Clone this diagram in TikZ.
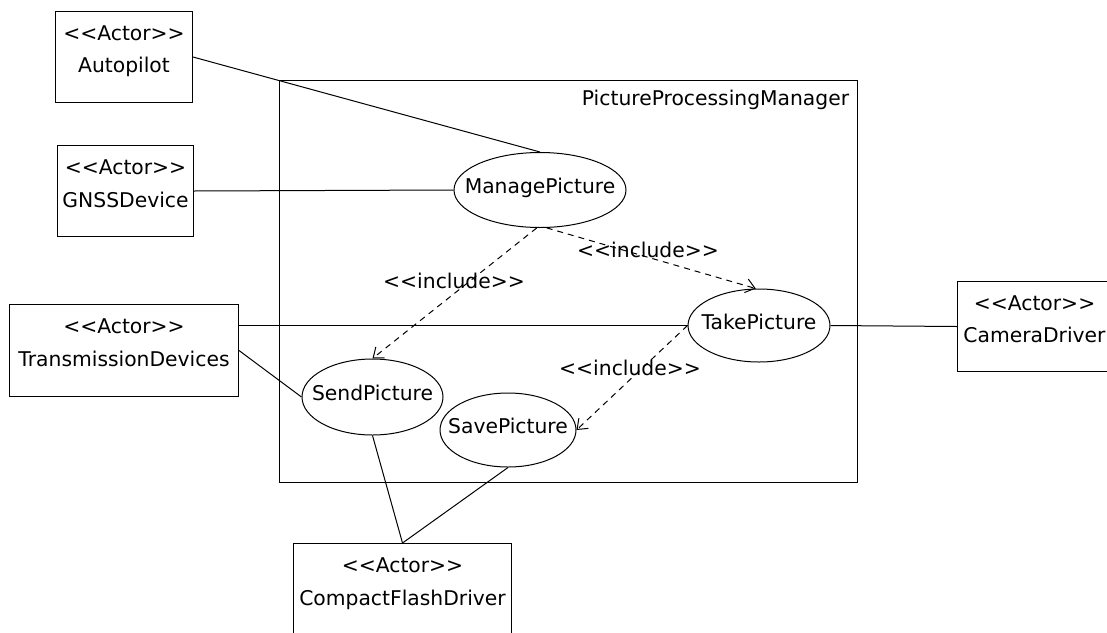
\documentclass[tikz,border=0pt]{standalone}
\usepackage{fontspec}
\setmainfont{DejaVu Sans}
\usetikzlibrary{shapes.geometric,arrows.meta}

% UML stereotype, e.g. <<Actor>>
\newcommand\stereo[1]{<\kern0pt<#1>\kern0pt>}
% use-case name: zero-width box so the ellipse keeps its own size
\newcommand\ucname[1]{\makebox[0pt]{#1}}

\begin{document}
\begin{tikzpicture}[x=1pt,y=-1pt,
  font=\fontsize{20.3}{24}\selectfont,
  actorbox/.style={draw,line width=1pt,rectangle,anchor=north west,inner sep=0pt},
  usecase/.style={draw,ellipse,line width=1pt,inner sep=0pt,text height=0.72em,text depth=0pt},
  txt/.style={anchor=base,inner sep=0pt},
  assoc/.style={line width=1pt},
  incl/.style={line width=1pt,dash pattern=on 6pt off 5pt,
    -{Straight Barb[length=9pt,width=14pt]}}]

\clip (0,0) rectangle (1107,632);

% system boundary
\node[draw,line width=1.3pt,rectangle,anchor=north west,inner sep=0pt,
  minimum width=578pt,minimum height=402pt] (pkg) at (279,80) {};
\node[anchor=base east,inner sep=0pt] (pkgname)
  at ([xshift=-9pt,yshift=-25pt]pkg.north east) {PictureProcessingManager};

% actors
\node[actorbox,minimum width=137pt,minimum height=91pt] (ap) at (55,11) {};
\node[txt] (apS) at ([yshift=-29pt]ap.north) {\stereo{Actor}};
\node[txt] (apN) at ([yshift=-61pt]ap.north) {Autopilot};

\node[actorbox,minimum width=136pt,minimum height=91pt] (gnss) at (57,145) {};
\node[txt] (gnssS) at ([yshift=-29pt]gnss.north) {\stereo{Actor}};
\node[txt] (gnssN) at ([yshift=-62pt]gnss.north) {GNSSDevice};

\node[actorbox,minimum width=229pt,minimum height=92pt] (tr) at (9,304) {};
\node[txt] (trS) at ([yshift=-29pt]tr.north) {\stereo{Actor}};
\node[txt] (trN) at ([yshift=-62pt]tr.north) {TransmissionDevices};

\node[actorbox,minimum width=154pt,minimum height=90pt] (cam) at (957,281) {};
\node[txt] (camS) at ([yshift=-29pt]cam.north) {\stereo{Actor}};
\node[txt] (camN) at ([yshift=-61pt]cam.north) {CameraDriver};

\node[actorbox,minimum width=218pt,minimum height=100pt] (cf) at (293,543) {};
\node[txt] (cfS) at ([yshift=-29pt]cf.north) {\stereo{Actor}};
\node[txt] (cfN) at ([yshift=-62pt]cf.north) {CompactFlashDriver};

% use cases
\node[usecase,minimum width=172pt,minimum height=75pt] (mp) at (540,190) {\ucname{ManagePicture}};
\node[usecase,minimum width=142pt,minimum height=73pt] (tp) at (759,325.5) {\ucname{TakePicture}};
\node[usecase,minimum width=141pt,minimum height=76pt] (sp) at (372.5,397) {\ucname{SendPicture}};
\node[usecase,minimum width=136pt,minimum height=74pt] (sv) at (508,430) {\ucname{SavePicture}};

% associations
\draw[assoc] (ap.east) -- (mp.north);
\draw[assoc] (gnss.east) -- (mp.west);
\draw[assoc] (tr.east |- tp.west) -- (tp.west);
\draw[assoc] (tr.east) -- (sp.west);
\draw[assoc] (tp.east) -- (cam.west);
\draw[assoc] (sp.south) -- (cf.north);
\draw[assoc] (sv.south) -- (cf.north);

% include dependencies
\draw[incl] (mp.-95) -- (sp.north);
\draw[incl] (mp.-80) -- (tp.95);
\draw[incl] (tp.west) -- (sv.east);

\node[txt] (inc1) at (454,288) {\stereo{include}};
\node[txt] (inc2) at (648,257) {\stereo{include}};
\node[txt] (inc3) at (630,375) {\stereo{include}};

\end{tikzpicture}
\end{document}
